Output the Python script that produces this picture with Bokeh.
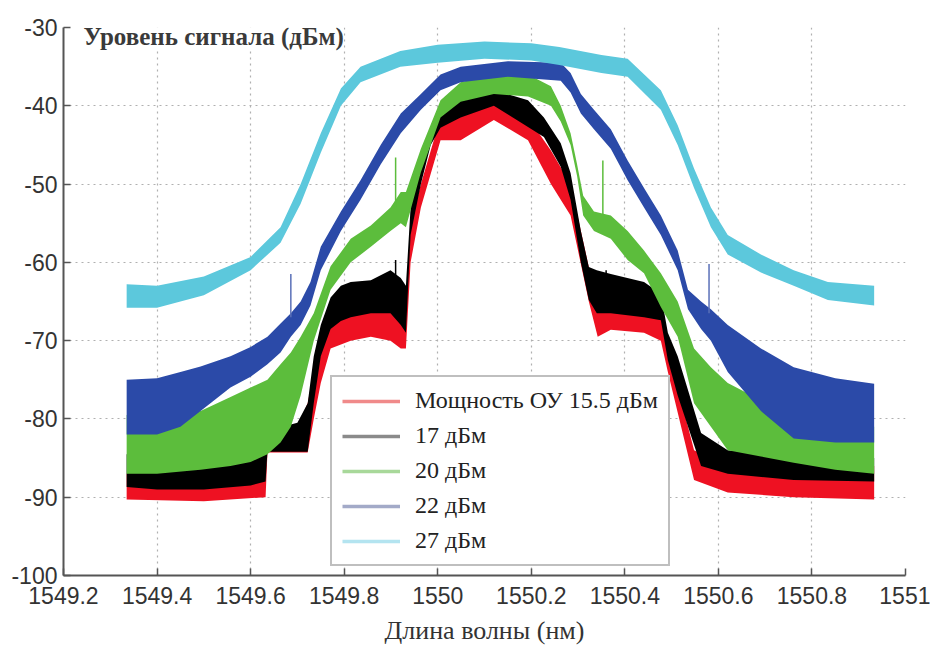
from bokeh.plotting import figure
from bokeh.models import FixedTicker, Legend, LegendItem, Label, Range1d
from bokeh.embed import file_html
from bokeh.resources import INLINE

# ---------------- data ----------------
x_tick_values = [1549.2, 1549.4, 1549.6, 1549.8, 1550.0, 1550.2, 1550.4, 1550.6, 1550.8, 1551.0]
x_tick_labels = ["1549.2", "1549.4", "1549.6", "1549.8", "1550", "1550.2", "1550.4", "1550.6", "1550.8", "1551"]
y_tick_values = [-100, -90, -80, -70, -60, -50, -40, -30]
y_tick_labels = ["-100", "-90", "-80", "-70", "-60", "-50", "-40", "-30"]

series_names = ["Мощность ОУ 15.5 дБм", "17 дБм", "20 дБм", "22 дБм", "27 дБм"]

# 15.5 dBm (red): x, upper envelope, lower envelope
p155_x = [1549.335, 1549.50, 1549.632, 1549.636, 1549.70, 1549.722, 1549.735, 1549.75, 1549.771, 1549.814,
          1549.857, 1549.899, 1549.921, 1549.932, 1549.942, 1549.964, 1550.006, 1550.049, 1550.12, 1550.193,
          1550.242, 1550.284, 1550.323, 1550.342, 1550.37, 1550.441, 1550.477, 1550.492, 1550.548, 1550.62,
          1550.761, 1550.933]
p155_hi = [-87.0, -87.2, -87.0, -82.5, -81.0, -78.0, -74.0, -70.5, -66.5, -65.0,
           -65.0, -64.5, -65.0, -66.0, -55.0, -50.0, -41.5, -40.6, -39.3, -41.5,
           -45.7, -50.0, -60.6, -63.0, -63.0, -64.0, -65.0, -71.0, -84.0, -86.0,
           -86.0, -86.0]
p155_lo = [-90.3, -90.5, -90.0, -84.3, -84.3, -84.3, -80.0, -75.4, -71.0, -70.0,
           -69.5, -70.0, -71.0, -71.0, -60.0, -53.0, -44.4, -44.4, -41.8, -44.4,
           -50.0, -54.0, -65.0, -69.5, -68.6, -69.0, -70.0, -74.0, -87.8, -89.4,
           -90.0, -90.3]

# 17 dBm (black)
p17_x = [1549.335, 1549.40, 1549.50, 1549.60, 1549.632, 1549.636, 1549.70, 1549.722, 1549.735, 1549.75,
         1549.771, 1549.793, 1549.814, 1549.857, 1549.899, 1549.921, 1549.932, 1549.942, 1549.964, 1549.985,
         1550.006, 1550.049, 1550.12, 1550.193, 1550.227, 1550.263, 1550.284, 1550.306, 1550.323, 1550.34,
         1550.37, 1550.441, 1550.477, 1550.492, 1550.513, 1550.563, 1550.62, 1550.761, 1550.933]
p17_hi = [-84.5, -84.5, -84.5, -84.0, -83.5, -81.5, -80.5, -78.0, -72.0, -68.0,
          -64.5, -63.0, -62.5, -62.3, -61.0, -62.0, -63.0, -53.0, -47.0, -42.8,
          -39.7, -38.8, -38.0, -39.3, -41.5, -44.8, -48.6, -56.0, -60.6, -61.0,
          -61.5, -62.5, -64.0, -69.0, -72.0, -81.8, -84.0, -84.8, -85.0]
p17_lo = [-88.7, -89.0, -89.0, -88.5, -88.0, -84.2, -84.2, -84.2, -78.0, -72.0,
          -68.5, -67.5, -67.0, -66.5, -66.5, -68.0, -69.0, -56.5, -50.0, -45.0,
          -42.8, -41.5, -40.0, -42.7, -44.0, -47.8, -52.0, -60.0, -64.8, -66.5,
          -66.5, -67.0, -67.4, -72.5, -77.0, -86.0, -87.0, -87.8, -88.0]

# 20 dBm (green)
p20_x = [1549.335, 1549.40, 1549.493, 1549.557, 1549.60, 1549.636, 1549.664, 1549.686, 1549.707, 1549.735,
         1549.771, 1549.814, 1549.857, 1549.899, 1549.921, 1549.932, 1549.964, 1550.006, 1550.049, 1550.12,
         1550.193, 1550.242, 1550.263, 1550.284, 1550.298, 1550.311, 1550.334, 1550.37, 1550.406, 1550.441,
         1550.477, 1550.513, 1550.548, 1550.584, 1550.62, 1550.691, 1550.761, 1550.85, 1550.933]
p20_hi = [-79.5, -79.5, -79.0, -77.2, -76.0, -75.0, -73.0, -71.5, -69.5, -66.5,
          -60.5, -57.0, -55.3, -53.0, -51.0, -51.0, -45.5, -39.3, -37.0, -36.0,
          -36.0, -37.5, -40.0, -43.5, -47.5, -51.5, -53.5, -54.0, -56.0, -58.5,
          -61.4, -65.0, -71.0, -73.4, -75.4, -77.6, -78.9, -80.0, -81.0]
p20_lo = [-87.0, -87.0, -86.5, -86.0, -85.5, -84.5, -83.0, -81.0, -77.0, -70.0,
          -63.5, -60.0, -58.0, -56.0, -55.0, -55.5, -48.5, -41.5, -39.5, -38.5,
          -38.8, -40.0, -42.0, -45.0, -49.0, -54.0, -56.0, -57.0, -59.7, -61.4,
          -65.7, -69.5, -78.0, -81.0, -84.0, -84.8, -85.6, -86.5, -87.0]

# 22 dBm (blue)
p22_x = [1549.335, 1549.40, 1549.45, 1549.493, 1549.557, 1549.60, 1549.636, 1549.664, 1549.686, 1549.707,
         1549.728, 1549.75, 1549.793, 1549.835, 1549.878, 1549.921, 1549.964, 1550.006, 1550.049, 1550.15,
         1550.263, 1550.284, 1550.306, 1550.334, 1550.37, 1550.406, 1550.441, 1550.477, 1550.513, 1550.535,
         1550.563, 1550.584, 1550.62, 1550.691, 1550.761, 1550.85, 1550.933]
p22_hi = [-75.0, -74.8, -74.0, -73.3, -72.0, -70.8, -69.5, -67.8, -66.5, -65.0,
          -62.5, -58.0, -53.5, -49.5, -45.0, -41.0, -38.5, -36.0, -35.0, -34.3,
          -34.5, -35.8, -38.5, -40.5, -43.0, -47.0, -50.5, -54.0, -58.5, -63.5,
          -65.0, -66.0, -68.0, -71.0, -73.4, -74.8, -75.5]
p22_lo = [-82.0, -82.0, -81.0, -79.0, -76.0, -74.6, -73.0, -71.5, -69.5, -68.0,
          -65.5, -61.0, -56.0, -52.0, -47.5, -43.5, -40.5, -38.0, -37.0, -36.3,
          -36.8, -38.3, -41.0, -43.0, -45.5, -49.5, -53.0, -56.5, -61.0, -66.0,
          -68.5, -70.0, -74.0, -79.0, -82.5, -83.0, -83.0]

# 27 dBm (cyan)
p27_x = [1549.335, 1549.40, 1549.50, 1549.60, 1549.664, 1549.707, 1549.75, 1549.793, 1549.835, 1549.92,
         1550.0, 1550.1, 1550.2, 1550.26, 1550.35, 1550.406, 1550.477, 1550.513, 1550.548, 1550.584,
         1550.62, 1550.691, 1550.761, 1550.834, 1550.933]
p27_hi = [-62.8, -63.0, -61.8, -59.3, -55.5, -50.0, -43.5, -37.8, -35.0, -33.0,
          -32.2, -31.8, -32.0, -32.5, -33.5, -34.0, -38.0, -42.5, -48.0, -53.0,
          -56.5, -59.0, -61.0, -62.5, -63.0]
p27_lo = [-65.8, -65.8, -64.2, -61.0, -57.5, -52.5, -46.0, -40.0, -37.0, -35.0,
          -34.5, -34.0, -34.2, -34.8, -35.8, -36.3, -40.5, -45.0, -50.5, -55.5,
          -59.0, -61.3, -63.0, -64.8, -65.5]

# narrow spectral spikes
p17_spike_x = [1549.91, 1550.36]
p17_spike_top = [-59.7, -61.0]
p17_spike_base = [-62.5, -63.0]
p20_spike_x = [1549.91, 1550.353]
p20_spike_top = [-46.6, -47.0]
p20_spike_base = [-53.0, -54.0]
p22_spike_x = [1549.686, 1550.58]
p22_spike_top = [-61.5, -60.2]
p22_spike_base = [-67.0, -66.5]

# ---------------- styles ----------------
RED = "#ee1122"
BLACK = "#000000"
GREEN = "#5cbd3c"
BLUE = "#2b4aa8"
CYAN = "#5cc8dc"
LEG_COLORS = ["#f08a8a", "#8a8a8a", "#a8d89a", "#a3aac8", "#b4e4f0"]

W, H = 930, 647
p = figure(width=W, height=H, output_backend="svg", toolbar_location=None,
           x_range=Range1d(1549.2, 1551.0), y_range=Range1d(-100, -30),
           min_border_left=63, min_border_right=25, min_border_top=27, min_border_bottom=71,
           background_fill_color="white", border_fill_color="white")
p.outline_line_color = None

# bands (drawn bottom to top: red, black, green, blue, cyan)
p.varea(x=p155_x, y1=p155_lo, y2=p155_hi, fill_color=RED)
p.varea(x=p17_x, y1=p17_lo, y2=p17_hi, fill_color=BLACK)
p.segment(x0=p17_spike_x, y0=p17_spike_base, x1=p17_spike_x, y1=p17_spike_top, line_color=BLACK, line_width=1.5)
p.varea(x=p20_x, y1=p20_lo, y2=p20_hi, fill_color=GREEN)
p.segment(x0=p20_spike_x, y0=p20_spike_base, x1=p20_spike_x, y1=p20_spike_top, line_color=GREEN, line_width=1.5)
p.varea(x=p22_x, y1=p22_lo, y2=p22_hi, fill_color=BLUE)
p.segment(x0=p22_spike_x, y0=p22_spike_base, x1=p22_spike_x, y1=p22_spike_top, line_color="#5a70b8", line_width=1.5)
p.varea(x=p27_x, y1=p27_lo, y2=p27_hi, fill_color=CYAN)

# axes
for ax in (p.xaxis[0], p.yaxis[0]):
    ax.axis_line_color = "#555555"
    ax.axis_line_width = 2
    ax.major_tick_line_color = "#555555"
    ax.major_tick_line_width = 1.5
    ax.major_tick_in = 7
    ax.major_tick_out = 0
    ax.minor_tick_line_color = None
    ax.major_label_text_font = "Liberation Sans"
    ax.major_label_text_font_size = "23px"
    ax.major_label_text_color = "#333333"

p.xaxis.ticker = FixedTicker(ticks=x_tick_values)
p.xaxis.major_label_overrides = {v: s for v, s in zip(x_tick_values, x_tick_labels)}
p.xaxis.major_label_standoff = 11
p.xaxis.axis_label = "Длина волны (нм)"
p.xaxis.axis_label_text_font = "Liberation Serif"
p.xaxis.axis_label_text_font_style = "normal"
p.xaxis.axis_label_text_font_size = "26px"
p.xaxis.axis_label_text_color = "#333333"
p.xaxis.axis_label_standoff = 9

p.yaxis.ticker = FixedTicker(ticks=y_tick_values)
p.yaxis.major_label_overrides = {v: s for v, s in zip(y_tick_values, y_tick_labels)}
p.yaxis.major_label_standoff = 6

for g in (p.xgrid[0], p.ygrid[0]):
    g.grid_line_color = "#b0b0b0"
    g.grid_line_dash = "2 4"
    g.grid_line_width = 1.2

# title inside the plot
p.add_layout(Label(x=1549.243, y=-32.9, text="Уровень сигнала (дБм)",
                   text_font="Liberation Serif", text_font_size="25px", text_font_style="bold",
                   text_color="#3a3a3a", background_fill_color="white", text_baseline="bottom"))

# legend (renderers reuse each series' first point; a one-point line draws nothing in the plot)
legend_src = [(p155_x, p155_hi), (p17_x, p17_hi), (p20_x, p20_hi), (p22_x, p22_hi), (p27_x, p27_hi)]
items = []
for name, col, (sx, sy) in zip(series_names, LEG_COLORS, legend_src):
    r = p.line(x=sx[:1], y=sy[:1], line_color=col, line_width=3.5)
    items.append(LegendItem(label=name, renderers=[r]))
legend = Legend(items=items, location=(267, 9), orientation="vertical", margin=0,
                label_text_font="Liberation Serif", label_text_font_size="24px",
                label_text_color="#222222", glyph_width=58, glyph_height=20,
                label_height=20, spacing=8, padding=10, label_standoff=15,
                border_line_color="#808080", border_line_width=2,
                background_fill_color="white", background_fill_alpha=1.0)
p.add_layout(legend, "center")

open("out.html", "w").write(file_html(p, INLINE))
